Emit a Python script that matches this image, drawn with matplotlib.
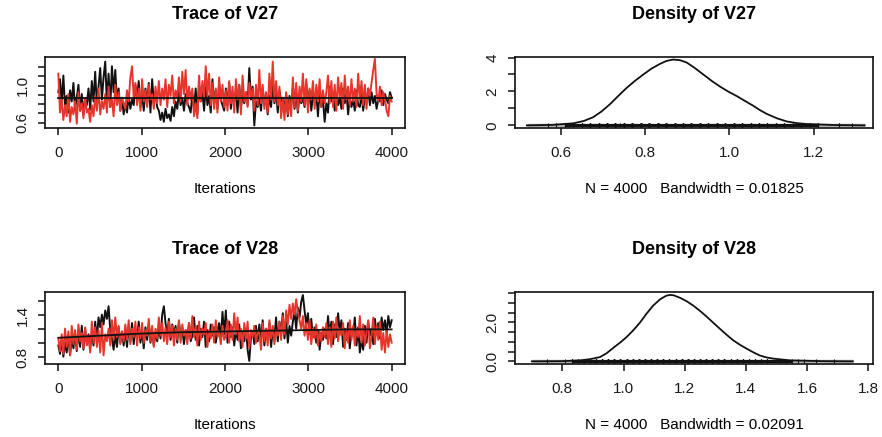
import matplotlib
matplotlib.use("Agg")
import matplotlib.pyplot as plt
import numpy as np

plt.rcParams['font.family'] = ['Liberation Sans', 'DejaVu Sans']

RED = '#e8352b'
INK = '#111111'

# ---- trace values (one value every ~20 iterations) ----
v27_chain1 = [0.93, 1.07, 0.81, 1.11, 0.77, 0.89, 0.71, 0.95, 0.83, 1.03, 0.75, 0.87, 1.01, 0.73, 0.91, 0.69, 0.85, 0.79, 0.97, 0.74,
              1.05, 0.83, 1.15, 0.79, 0.99, 1.19, 0.85, 1.09, 1.26, 0.81, 1.13, 0.77, 1.21, 0.93, 1.17, 0.83, 0.97, 0.73, 0.87, 0.69,
              0.81, 0.71, 0.89, 0.75, 0.85, 0.79, 1.01, 0.87, 1.05, 0.77, 0.91, 0.73, 0.97, 0.81, 1.03, 0.71, 1.07, 0.83, 0.93, 0.77,
              0.73, 0.63, 0.71, 0.61, 0.75, 0.65, 0.69, 0.62, 0.77, 0.67, 0.83, 0.75, 0.93, 0.79, 0.87, 0.73, 0.91, 0.81, 0.77, 0.71,
              0.91, 0.75, 0.97, 0.69, 1.01, 0.83, 0.93, 0.73, 0.99, 0.79, 0.89, 0.71, 1.07, 0.81, 0.95, 0.75, 1.03, 0.85, 0.79, 0.73,
              0.97, 0.79, 1.03, 0.75, 0.91, 0.83, 0.95, 0.71, 1.01, 0.77, 0.89, 0.81, 0.93, 0.79, 1.19, 0.85, 0.99, 0.57, 0.83, 0.77,
              0.87, 0.73, 0.97, 0.79, 0.91, 0.69, 0.89, 0.77, 1.01, 0.81, 0.93, 0.71, 0.95, 0.83, 0.87, 0.75, 0.91, 0.67, 0.89, 0.79,
              0.97, 0.75, 0.93, 0.71, 0.91, 0.81, 0.87, 0.77, 1.03, 0.79, 0.95, 0.73, 0.89, 0.83, 0.91, 0.67, 0.95, 0.77, 0.85, 0.61,
              0.81, 0.71, 0.99, 0.83, 0.93, 0.73, 0.91, 0.79, 0.87, 0.75, 0.97, 0.81, 0.93, 0.69, 0.87, 0.77, 0.85, 0.73, 0.95, 0.79,
              0.77, 0.91, 0.73, 0.87, 0.83, 0.97, 0.79, 0.93, 0.81, 0.89, 0.75, 0.85, 0.83, 0.95, 0.79, 0.91, 0.85, 0.81, 0.93, 0.87]
v27_chain2 = [1.13, 0.71, 0.85, 0.63, 0.79, 0.67, 0.91, 0.61, 0.77, 0.69, 0.83, 0.59, 0.93, 0.73, 0.81, 0.65, 0.87, 0.71, 0.75, 0.61,
              0.79, 0.67, 0.89, 0.73, 0.97, 0.69, 0.83, 0.75, 0.91, 0.71, 0.99, 0.77, 0.85, 0.67, 1.01, 0.79, 0.93, 0.73, 0.87, 0.81,
              0.75, 0.95, 0.83, 1.09, 1.21, 0.87, 1.03, 0.79, 0.97, 0.73, 1.07, 0.83, 0.95, 0.77, 1.01, 0.85, 0.91, 0.75, 0.99, 0.81,
              1.05, 0.79, 0.97, 0.85, 1.07, 0.77, 1.01, 0.89, 1.11, 0.81, 0.95, 0.87, 1.09, 0.83, 1.15, 0.91, 1.17, 0.79, 0.99, 0.85,
              0.97, 0.67, 0.81, 0.65, 1.11, 0.83, 1.05, 0.87, 1.21, 0.89, 1.13, 0.79, 1.03, 0.75, 0.97, 0.71, 1.09, 0.83, 1.01, 0.77,
              0.95, 0.73, 1.05, 0.81, 0.99, 0.71, 1.07, 0.85, 1.01, 0.69, 1.11, 0.83, 0.93, 0.77, 1.03, 0.87, 0.97, 0.73, 1.01, 0.79,
              1.17, 0.81, 1.01, 0.75, 0.93, 0.71, 1.13, 0.85, 1.26, 0.83, 1.05, 0.79, 0.99, 0.65, 0.87, 0.63, 0.93, 0.69, 0.85, 0.67,
              1.09, 0.77, 1.03, 0.73, 0.99, 0.83, 1.13, 0.79, 1.07, 0.71, 0.97, 0.85, 1.05, 0.75, 1.01, 0.83, 1.07, 0.77, 0.95, 0.81,
              0.93, 1.11, 0.81, 1.05, 0.77, 1.01, 0.73, 1.09, 0.87, 1.03, 0.75, 1.11, 0.85, 0.99, 0.79, 1.07, 0.83, 0.97, 0.77, 1.13,
              0.85, 1.05, 0.79, 1.01, 0.75, 0.97, 0.89, 1.03, 1.17, 1.29, 0.91, 0.83, 0.99, 0.79, 0.93, 0.85, 0.73, 0.67, 0.89, 0.83]
v28_chain1 = [0.97, 0.85, 1.05, 0.81, 1.01, 0.87, 1.11, 0.83, 1.07, 0.93, 1.15, 0.89, 1.19, 0.95, 1.25, 0.91, 1.21, 0.99, 1.13, 0.93,
              1.15, 0.97, 1.31, 1.05, 1.37, 1.23, 1.41, 1.27, 1.47, 1.35, 1.53, 1.19, 1.07, 0.91, 1.13, 0.95, 1.23, 1.01, 1.17, 0.97,
              1.19, 0.95, 1.25, 1.03, 1.29, 0.99, 1.21, 1.07, 1.31, 1.01, 1.17, 0.93, 1.23, 1.05, 1.27, 1.01, 1.19, 0.97, 1.15, 1.03,
              1.23, 1.07, 1.41, 1.53, 1.29, 1.11, 1.35, 1.05, 1.27, 1.13, 1.25, 1.01, 1.31, 1.09, 1.21, 0.99, 1.19, 1.07, 1.29, 1.03,
              1.11, 1.37, 1.05, 1.25, 0.97, 1.21, 1.09, 1.31, 0.95, 1.19, 1.03, 1.27, 1.11, 1.23, 1.01, 1.17, 1.29, 1.07, 1.45, 1.13,
              1.47, 1.01, 1.31, 1.09, 1.23, 0.97, 1.19, 1.05, 1.27, 0.93, 1.15, 1.03, 1.21, 0.91, 0.75, 1.09, 1.17, 0.99, 1.25, 1.03,
              1.27, 1.05, 1.33, 0.97, 1.21, 1.07, 1.29, 0.95, 1.19, 1.09, 1.37, 1.03, 1.31, 1.13, 1.43, 1.07, 1.33, 1.01, 1.25, 1.11,
              1.31, 1.45, 1.21, 1.51, 1.37, 1.59, 1.69, 1.47, 1.27, 1.43, 1.13, 1.35, 1.09, 1.23, 1.01, 1.19, 0.91, 1.15, 1.05, 1.21,
              1.07, 1.39, 1.13, 1.31, 0.99, 1.27, 1.09, 1.43, 1.17, 1.33, 0.95, 1.21, 1.05, 1.29, 0.93, 1.19, 1.11, 1.37, 0.97, 1.23,
              0.87, 1.05, 0.91, 1.25, 1.01, 1.31, 1.11, 1.21, 0.99, 1.35, 1.13, 1.29, 1.07, 1.37, 1.19, 1.33, 1.15, 1.39, 1.23, 1.33]
v28_chain2 = [1.07, 0.89, 1.13, 0.85, 1.21, 0.95, 1.17, 0.83, 1.25, 0.99, 1.19, 0.91, 1.27, 1.03, 1.15, 0.93, 1.23, 0.97, 1.11, 0.87,
              1.31, 1.01, 1.23, 0.95, 1.19, 0.87, 1.29, 0.83, 1.13, 1.03, 1.21, 0.97, 1.33, 1.05, 1.37, 1.09, 1.25, 0.99, 1.17, 1.03,
              1.27, 1.05, 1.33, 0.99, 1.21, 1.09, 1.31, 0.97, 1.23, 1.07, 1.29, 1.01, 1.19, 1.11, 1.35, 1.03, 1.25, 0.95, 1.21, 1.07,
              1.37, 1.11, 1.29, 1.03, 1.23, 0.99, 1.31, 1.09, 1.25, 0.97, 1.21, 1.05, 1.33, 1.01, 1.27, 1.11, 1.19, 0.99, 1.29, 1.07,
              1.39, 1.09, 1.23, 0.97, 1.31, 1.05, 1.21, 1.13, 1.29, 0.95, 1.19, 1.07, 1.27, 1.01, 1.33, 1.09, 1.17, 0.99, 1.25, 1.05,
              1.11, 1.33, 1.01, 1.27, 1.05, 1.43, 1.13, 1.37, 1.03, 1.21, 0.95, 1.29, 1.07, 1.31, 0.93, 1.19, 1.09, 1.25, 1.01, 1.17,
              1.15, 0.91, 1.29, 1.03, 1.21, 0.97, 1.33, 1.07, 1.25, 0.99, 1.19, 1.11, 1.31, 1.05, 1.39, 1.13, 1.47, 1.27, 1.55, 1.35,
              1.57, 1.41, 1.63, 1.45, 1.33, 1.21, 1.39, 1.11, 1.29, 1.05, 1.33, 0.99, 1.21, 1.07, 1.27, 0.97, 1.17, 1.03, 1.23, 1.09,
              1.29, 0.99, 1.23, 0.95, 1.31, 1.07, 1.37, 1.03, 1.21, 1.11, 1.29, 0.93, 1.19, 1.01, 1.33, 1.05, 1.25, 0.97, 1.21, 1.09,
              1.39, 1.01, 1.27, 0.97, 1.17, 1.33, 0.93, 1.11, 1.37, 0.99, 1.25, 1.05, 1.31, 0.91, 1.15, 0.87, 1.19, 0.95, 1.13, 1.01]

# smoothed running mean lines
smooth_iter = [1, 500, 1000, 1500, 2000, 2500, 3000, 3500, 4000]
v27_smooth = [0.87, 0.87, 0.87, 0.87, 0.87, 0.87, 0.87, 0.87, 0.87]
v28_smooth = [1.08, 1.11, 1.14, 1.16, 1.17, 1.18, 1.19, 1.20, 1.20]

# density curves
v27_dens_x = [0.52, 0.58, 0.63, 0.655, 0.677, 0.697, 0.717, 0.736, 0.756, 0.776,
              0.796, 0.815, 0.835, 0.851, 0.867, 0.883, 0.899, 0.918, 0.938, 0.958,
              0.978, 0.998, 1.017, 1.036, 1.056, 1.072, 1.088, 1.112, 1.136, 1.16,
              1.183, 1.25, 1.32]
v27_dens_y = [0.0, 0.03, 0.12, 0.26, 0.48, 0.82, 1.25, 1.72, 2.2, 2.62,
              3.0, 3.34, 3.62, 3.8, 3.88, 3.84, 3.7, 3.38, 3.0, 2.62,
              2.28, 1.98, 1.73, 1.45, 1.16, 0.9, 0.68, 0.42, 0.23, 0.13,
              0.08, 0.02, 0.0]
v28_dens_x = [0.70, 0.80, 0.858, 0.89, 0.923, 0.945, 0.967, 0.99, 1.01, 1.032,
              1.054, 1.075, 1.097, 1.12, 1.14, 1.152, 1.164, 1.185, 1.206, 1.228,
              1.25, 1.272, 1.294, 1.315, 1.337, 1.359, 1.381, 1.403, 1.425, 1.446,
              1.468, 1.49, 1.544, 1.65, 1.75]
v28_dens_y = [0.0, 0.01, 0.05, 0.11, 0.22, 0.42, 0.7, 0.98, 1.25, 1.6,
              2.0, 2.45, 2.87, 3.2, 3.38, 3.42, 3.4, 3.27, 3.1, 2.87,
              2.6, 2.3, 1.98, 1.68, 1.37, 1.08, 0.85, 0.65, 0.46, 0.3,
              0.2, 0.14, 0.05, 0.01, 0.0]

n_iter = 4000
bw_text = ['N = 4000   Bandwidth = 0.01825', 'N = 4000   Bandwidth = 0.02091']

fig = plt.figure(figsize=(8.82, 4.37), dpi=100)
W, H = 882., 437.


def box(l, t, r, b):
    return fig.add_axes([l / W, 1 - b / H, (r - l) / W, (b - t) / H])


def r_style(ax):
    for s in ax.spines.values():
        s.set_color(INK)
        s.set_linewidth(1.2)
    ax.tick_params(direction='out', length=5, width=1.1, color=INK,
                   labelsize=11, labelcolor='#1a1a1a')
    ax.tick_params(axis='x', pad=8)
    ax.tick_params(axis='y', pad=6)
    for lab in ax.get_yticklabels():
        lab.set_rotation(90)
        lab.set_va('center')


def trace(ax, c1, c2, smooth, title, yticks, ylabels, ylim):
    it = np.linspace(1, n_iter, len(c1))
    ax.plot(it, c1, color=INK, lw=1.4)
    ax.plot(it, c2, color=RED, lw=1.4)
    ax.plot(smooth_iter, smooth, color=INK, lw=1.3)
    ax.set_xlim(-159, 4160)
    ax.set_ylim(*ylim)
    ax.set_xticks([0, 1000, 2000, 3000, 4000])
    ax.set_yticks(yticks)
    ax.set_yticklabels(ylabels)
    ax.set_title(title, fontsize=13, fontweight='bold', pad=27)
    ax.set_xlabel('Iterations', fontsize=11, labelpad=16)
    r_style(ax)


def density(ax, dx, dy, c1, c2, title, xticks, yticks, ylabels, xlim, ylim, note):
    vals = np.concatenate([c1, c2])
    # rug: grey over the full support, dark where the draws are dense
    ax.plot([dx[0], dx[-1]], [0, 0], color='#b0b0b0', lw=2.5, solid_capstyle='butt')
    lo, hi = np.percentile(vals, [1, 99])
    ax.plot([lo, hi], [0, 0], color=INK, lw=2.2, solid_capstyle='butt')
    ax.plot(vals, np.zeros_like(vals), '|', color=INK, ms=2.5, mew=0.8)
    ax.plot(dx, dy, color=INK, lw=1.3)
    ax.set_xlim(*xlim)
    ax.set_ylim(*ylim)
    ax.set_xticks(xticks)
    ax.set_yticks(yticks)
    ax.set_yticklabels(ylabels)
    ax.set_title(title, fontsize=13, fontweight='bold', pad=27)
    ax.set_xlabel(note, fontsize=11, labelpad=16)
    r_style(ax)


ax1 = box(45, 57, 405, 128)
trace(ax1, v27_chain1, v27_chain2, v27_smooth, 'Trace of V27',
      [0.6, 0.7, 0.8, 0.9, 1.0, 1.1, 1.2],
      ['0.6', '', '', '', '1.0', '', ''], (0.543, 1.31))

ax2 = box(515, 57, 873, 128)
density(ax2, v27_dens_x, v27_dens_y, v27_chain1, v27_chain2, 'Density of V27',
        [0.6, 0.8, 1.0, 1.2], [0, 1, 2, 3, 4], ['0', '', '2', '', '4'],
        (0.492, 1.34), (-0.155, 4.03), bw_text[0])

ax3 = box(45, 292, 405, 364)
trace(ax3, v28_chain1, v28_chain2, v28_smooth, 'Trace of V28',
      [0.8, 1.0, 1.2, 1.4, 1.6], ['0.8', '', '', '1.4', ''], (0.706, 1.733))

ax4 = box(515, 292, 873, 364)
density(ax4, v28_dens_x, v28_dens_y, v28_chain1, v28_chain2, 'Density of V28',
        [0.8, 1.0, 1.2, 1.4, 1.6, 1.8], [0, 0.5, 1, 1.5, 2, 2.5, 3, 3.5],
        ['0.0', '', '', '', '2.0', '', '', ''],
        (0.645, 1.816), (-0.137, 3.57), bw_text[1])

fig.savefig('out.png', dpi=100)
